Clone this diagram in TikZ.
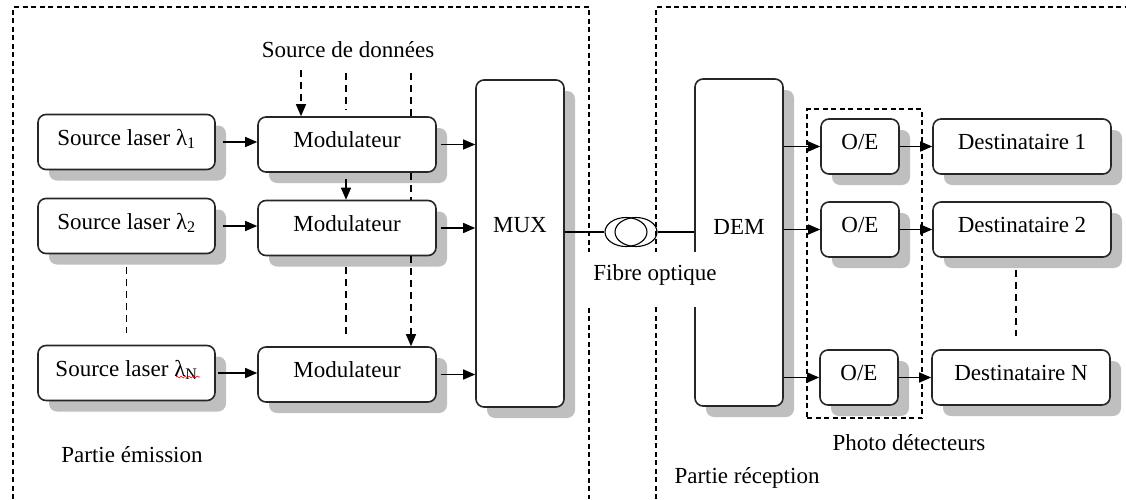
\documentclass[tikz,border=0pt]{standalone}
\usepackage{fontspec}
\setmainfont{Liberation Serif}
\usetikzlibrary{shadows,arrows.meta,decorations.pathmorphing,shapes.geometric}
\begin{document}
\begin{tikzpicture}[x=1pt,y=-1pt,
  box/.style={draw=black!85, line width=1.6pt, rounded corners=8pt, fill=white,
    drop shadow={shadow xshift=11pt, shadow yshift=-11pt, fill=black!25, opacity=1},
    inner sep=0pt, text height=16pt, text depth=10pt, font=\fontsize{23}{27}\selectfont},
  txt/.style={font=\fontsize{23}{27}\selectfont, inner sep=0pt},
  arr/.style={line width=1.4pt, -{Triangle[length=12pt,width=10pt]}},
  dl/.style={line width=1.3pt, dash pattern=on 7pt off 5pt},
  dla/.style={dl, -{Triangle[length=12pt,width=10pt]}},
  frame/.style={line width=1.1pt, dash pattern=on 5pt off 3.5pt},
  fib/.style={line width=2.4pt},
  coil/.style={draw, ellipse, line width=1.1pt, minimum width=42pt, minimum height=29pt, inner sep=0pt}]
\useasboundingbox (0,0) rectangle (1126,499);

% frames
\draw[frame] (13,499) -- (13,7) -- (589,7) -- (589,499);
\draw[frame] (656,499) -- (656,7) -- (1126,7);
\node[draw, frame, minimum width=115pt, minimum height=309pt, inner sep=0pt] (pdbox) at (864.5,263.5) {};

\coordinate (s3) at (411,73);

% emission boxes
\node[box, minimum width=177pt, minimum height=55pt] (l1) at (126.5,142) {Source laser λ\textsubscript{1}};
\node[box, minimum width=177pt, minimum height=55pt] (l2) at (126.5,226) {Source laser λ\textsubscript{2}};
\node[box, minimum width=177pt, minimum height=55pt] (l3) at (126.5,373) {Source laser λ\textsubscript{N}};
\node[box, minimum width=178pt, minimum height=55pt] (m1) at (347,144.5) {Modulateur};
\node[box, minimum width=178pt, minimum height=55pt] (m2) at (347,228) {Modulateur};
\node[box, minimum width=178pt, minimum height=55pt] (m3) at (347,374.5) {Modulateur};
\node[box, minimum width=88pt, minimum height=327pt] (mux) at (520,243.5) {};
\node[txt] (muxl) at (520,225) {MUX};

% reception boxes
\node[box, minimum width=88pt, minimum height=327pt] (dem) at (739,242.5) {};
\node[txt] (deml) at (739,227) {DEM};
\node[box, minimum width=78pt, minimum height=55pt] (o1) at (860,146.5) {O/E};
\node[box, minimum width=78pt, minimum height=55pt] (o2) at (860,229.5) {O/E};
\node[box, minimum width=78pt, minimum height=55pt] (o3) at (859,377.5) {O/E};
\node[box, minimum width=178pt, minimum height=55pt] (d1) at (1022,146.5) {Destinataire 1};
\node[box, minimum width=178pt, minimum height=55pt] (d2) at (1022,229.5) {Destinataire 2};
\node[box, minimum width=178pt, minimum height=55pt] (d3) at (1021,377.5) {Destinataire N};

% spell-check squiggle
\draw[red, line width=0.6pt, decorate, decoration={snake, amplitude=1pt, segment length=4pt}] (176,377) -- (200,377);

% data source
\node[txt] (ds) at (348,50) {Source de données};
\coordinate (s1) at (301,70);
\coordinate (s2) at (346,73);
\draw[dla] (s1) -- (s1 |- m1.north);
\draw[dl] (s2) -- ([yshift=7pt]s2 |- m1.north);
\draw[arr] ([yshift=-6pt]s2 |- m1.south) -- (s2 |- m2.north);
\draw[dl] ([yshift=-11pt]s2 |- m2.south) -- ([yshift=12pt]s2 |- m3.north);
\draw[dl] (s3) -- (s3 |- m1.north);
\draw[dl] (s3 |- m1.south) -- (s3 |- m2.north);
\draw[dla] (s3 |- m2.south) -- (s3 |- m3.north);

% continuations
\draw[dl] ([yshift=-13pt]l2.south) -- ([yshift=12pt]l3.north);
\draw[dl] ([xshift=-6pt,yshift=-12pt]d2.south) -- ([xshift=-5pt,yshift=13pt]d3.north);

% arrows emission
\draw[arr] ([xshift=7pt]l1.east) -- (l1.east -| m1.west);
\draw[arr] ([xshift=7pt]l2.east) -- (l2.east -| m2.west);
\draw[arr] ([xshift=2pt]l3.east) -- (l3.east -| m3.west);
\draw[arr] ([xshift=4pt]m1.east) -- (m1.east -| mux.west);
\draw[arr] ([xshift=4pt]m2.east) -- (m2.east -| mux.west);
\draw[arr] ([xshift=4pt]m3.east) -- (m3.east -| mux.west);

% fibre
\node[coil] (c1) at (626,232) {};
\node[coil] (c2) at (636,232) {};
\draw[fib] (mux.east |- c1.west) -- (c1.west);
\draw[fib] (c2.east) -- (c2.east -| dem.west);
\node[fill=white, minimum width=134pt, minimum height=55pt, inner sep=0pt] (fibrebg) at (653,279.5) {};
\node[txt] (fibre) at (655,275) {Fibre optique};

% arrows reception
\draw[arr] (dem.east |- o1.west) -- (o1.west);
\draw[arr] (dem.east |- o2.west) -- (o2.west);
\draw[arr] (dem.east |- o3.west) -- (o3.west);
\draw[arr] (o1.east) -- (o1.east -| d1.west);
\draw[arr] (o2.east) -- (o2.east -| d2.west);
\draw[arr] (o3.east) -- (o3.east -| d3.west);

% labels
\node[txt] (pe) at (132,455) {Partie émission};
\node[txt] (pd) at (909,443) {Photo détecteurs};
\node[txt] (pr) at (747,478) {Partie réception};
\end{tikzpicture}
\end{document}
